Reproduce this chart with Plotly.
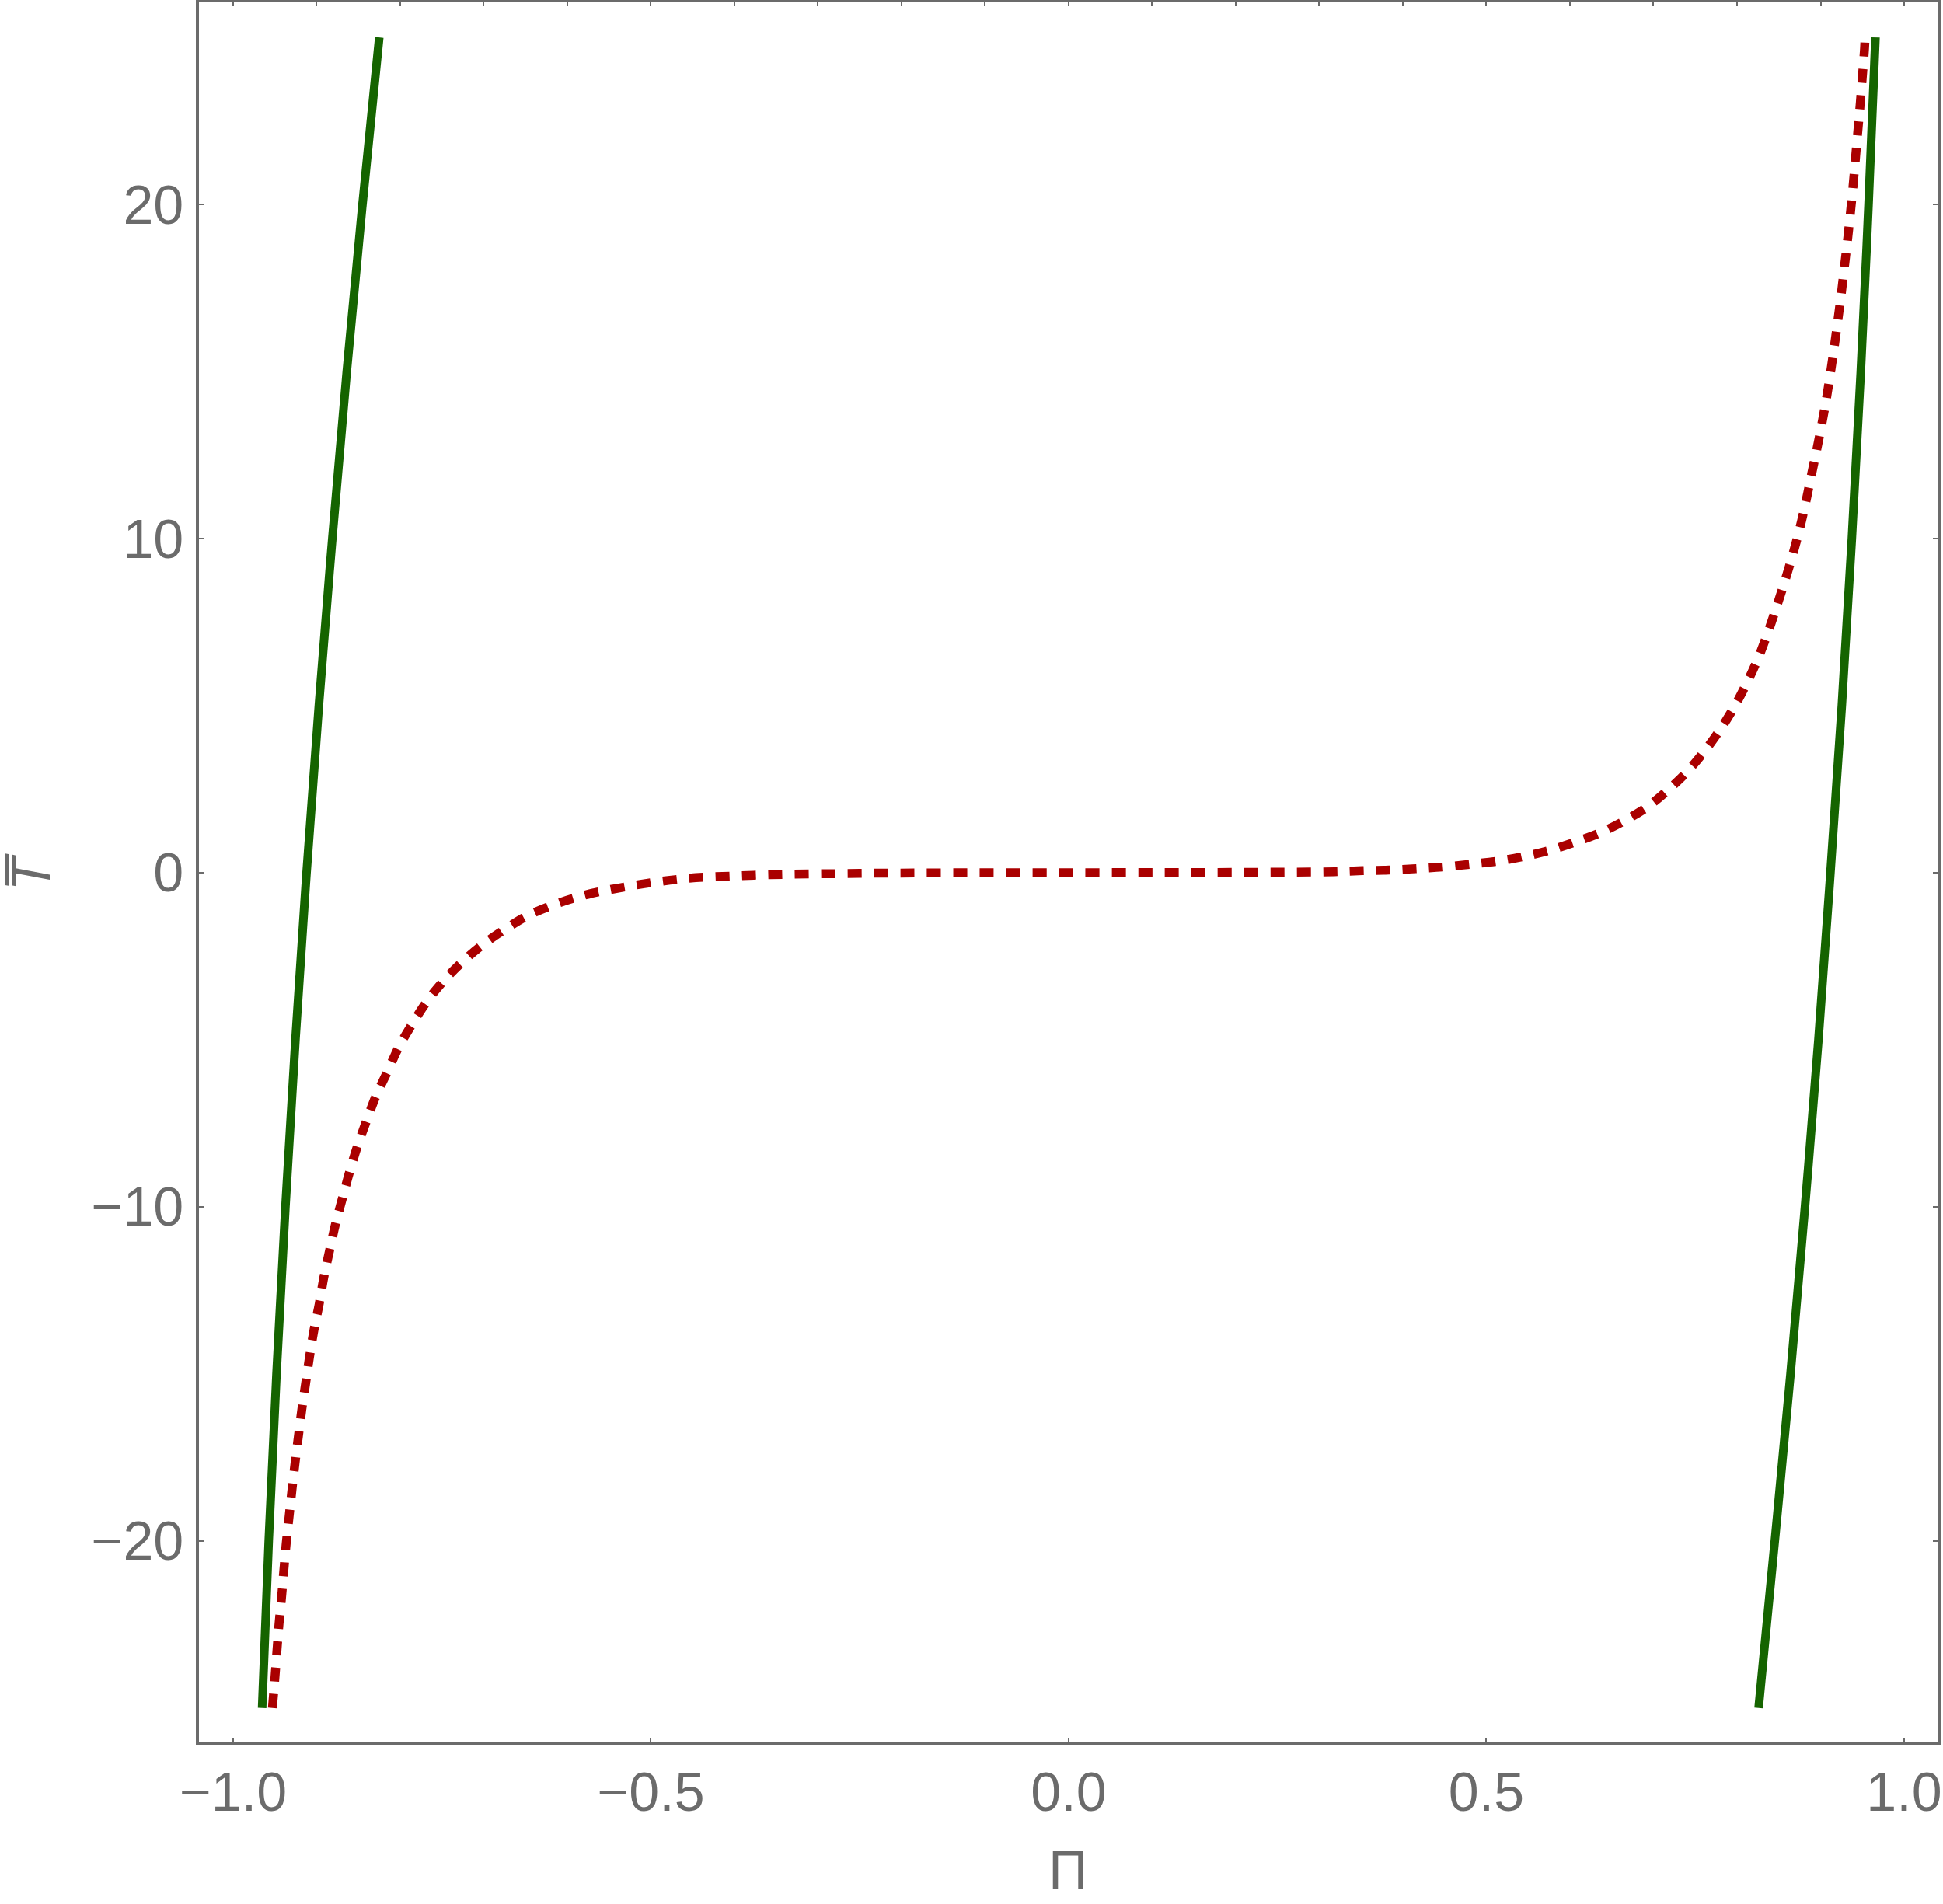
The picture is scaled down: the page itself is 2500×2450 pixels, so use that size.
import plotly.graph_objects as go

# green solid curves (left and right branches)
green_left_pi = [-0.9653, -0.9574, -0.9481, -0.9374, -0.9254, -0.9121,
                 -0.8974, -0.8813, -0.8640, -0.8452, -0.8251]
green_left_t = [-25.0, -20.0, -15.0, -10.0, -5.0, 0.0, 5.0, 10.0, 15.0, 20.0, 25.0]

green_right_pi = [0.8258, 0.8452, 0.8640, 0.8813, 0.8974, 0.9118,
                  0.9254, 0.9374, 0.9481, 0.9574, 0.9657]
green_right_t = [-25.0, -20.0, -15.0, -10.0, -5.0, 0.0, 5.0, 10.0, 15.0, 20.0, 25.0]

# red dotted curve
red_pi = [-0.9530, -0.9500, -0.9476, -0.9451, -0.9420, -0.9393, -0.9365, -0.9330, -0.9296,
          -0.9259, -0.9219, -0.9178, -0.9132, -0.9085, -0.9032, -0.8970, -0.8912, -0.8845,
          -0.8775, -0.8692, -0.8608, -0.8513, -0.8401, -0.8290, -0.8152, -0.8015, -0.7849,
          -0.7674, -0.7467, -0.7238, -0.6989, -0.6719, -0.6429, -0.5847, -0.5204, -0.4560,
          -0.3916, -0.3584, -0.25, -0.15, 0.0, 0.15, 0.25,
          0.3180, 0.3514, 0.3833, 0.4153, 0.4477, 0.4796, 0.5120, 0.5440, 0.5756, 0.6067,
          0.6367, 0.6649, 0.6927, 0.7176, 0.7405, 0.7612, 0.7808, 0.7973, 0.8123, 0.8256,
          0.8372, 0.8476, 0.8571, 0.8663, 0.8746, 0.8820, 0.8887, 0.8954, 0.9016, 0.9073,
          0.9123, 0.9169, 0.9212, 0.9253, 0.9290, 0.9327, 0.9361, 0.9392, 0.9420, 0.9448,
          0.9476, 0.9501, 0.9526, 0.9532]
red_t = [-25.0, -24.10, -23.30, -22.49, -21.68, -20.88, -20.08, -19.27, -18.48,
         -17.67, -16.87, -16.07, -15.28, -14.48, -13.68, -12.91, -12.08, -11.30,
         -10.52, -9.74, -8.97, -8.19, -7.41, -6.68, -5.95, -5.21, -4.50,
         -3.83, -3.20, -2.63, -2.11, -1.65, -1.23, -0.71, -0.38, -0.17,
         -0.09, -0.06, -0.02, -0.005, 0.0, 0.005, 0.015,
         0.03, 0.06, 0.08, 0.12, 0.17, 0.25, 0.34, 0.48, 0.67, 0.92,
         1.20, 1.55, 1.97, 2.48, 3.03, 3.64, 4.32, 4.99, 5.71, 6.44,
         7.21, 7.98, 8.72, 9.49, 10.26, 11.06, 11.87, 12.66, 13.45, 14.24,
         15.04, 15.84, 16.64, 17.44, 18.24, 19.04, 19.85, 20.65, 21.46, 22.26,
         23.07, 23.87, 24.67, 25.0]

x_ticks = [-1.0, -0.5, 0.0, 0.5, 1.0]
x_ticktext = ["\u22121.0", "\u22120.5", "0.0", "0.5", "1.0"]
y_ticks = [-20, -10, 0, 10, 20]
y_ticktext = ["\u221220", "\u221210", "0", "10", "20"]

GREEN = "#156400"
RED = "#aa0000"
GRAY = "#6b6b6b"
FONT = "Liberation Sans"

fig = go.Figure()
fig.add_trace(go.Scatter(x=green_left_pi, y=green_left_t, mode="lines",
                         line=dict(color=GREEN, width=11, shape="spline")))
fig.add_trace(go.Scatter(x=green_right_pi, y=green_right_t, mode="lines",
                         line=dict(color=GREEN, width=11, shape="spline")))
fig.add_trace(go.Scatter(x=red_pi, y=red_t, mode="lines",
                         line=dict(color=RED, width=11.5, dash="18px,16px", shape="spline")))
# invisible trace to hold the top axis with its finer ticks
fig.add_trace(go.Scatter(x=[0], y=[0], xaxis="x2", mode="markers",
                         marker=dict(opacity=0), hoverinfo="skip"))

xr = [-1.0409, 1.0400]
yr = [-26.03, 26.05]

fig.update_layout(
    width=2500, height=2450,
    margin=dict(l=256, r=7, t=3, b=208, autoexpand=False),
    paper_bgcolor="white", plot_bgcolor="white",
    showlegend=False,
    xaxis=dict(range=xr, tickvals=x_ticks, ticktext=x_ticktext, automargin=False,
               ticks="inside", ticklen=6, tickwidth=2, tickcolor=GRAY,
               showline=True, linewidth=3.5, linecolor=GRAY, mirror=True,
               showgrid=False, zeroline=False,
               tickfont=dict(family=FONT, size=70, color=GRAY),
               ticklabelstandoff=0),
    xaxis2=dict(range=xr, overlaying="x", side="top", anchor="y", automargin=False,
                tickvals=[round(-1.0 + 0.1 * i, 1) for i in range(21)],
                showticklabels=False, ticks="inside", ticklen=5, tickwidth=2,
                tickcolor=GRAY, showgrid=False, zeroline=False, showline=False),
    yaxis=dict(range=yr, tickvals=y_ticks, ticktext=y_ticktext, automargin=False,
               ticks="inside", ticklen=6, tickwidth=2, tickcolor=GRAY,
               showline=True, linewidth=3.5, linecolor=GRAY, mirror="ticks",
               showgrid=False, zeroline=False,
               tickfont=dict(family=FONT, size=70, color=GRAY),
               ticklabelstandoff=2),
    annotations=[
        dict(text="\u03a0", xref="paper", yref="paper", x=0.5, y=-0.0737,
             xanchor="center", yanchor="middle", showarrow=False,
             font=dict(family=FONT, size=70, color=GRAY)),
        dict(text="<i>T\u0305</i>", xref="paper", yref="paper", x=-0.0966, y=0.5,
             xanchor="center", yanchor="middle", showarrow=False, textangle=-90,
             font=dict(family=FONT, size=70, color=GRAY)),
    ],
)

fig.write_html("out.html", config={"displayModeBar": False},
               post_script="document.body.style.margin='0';")
